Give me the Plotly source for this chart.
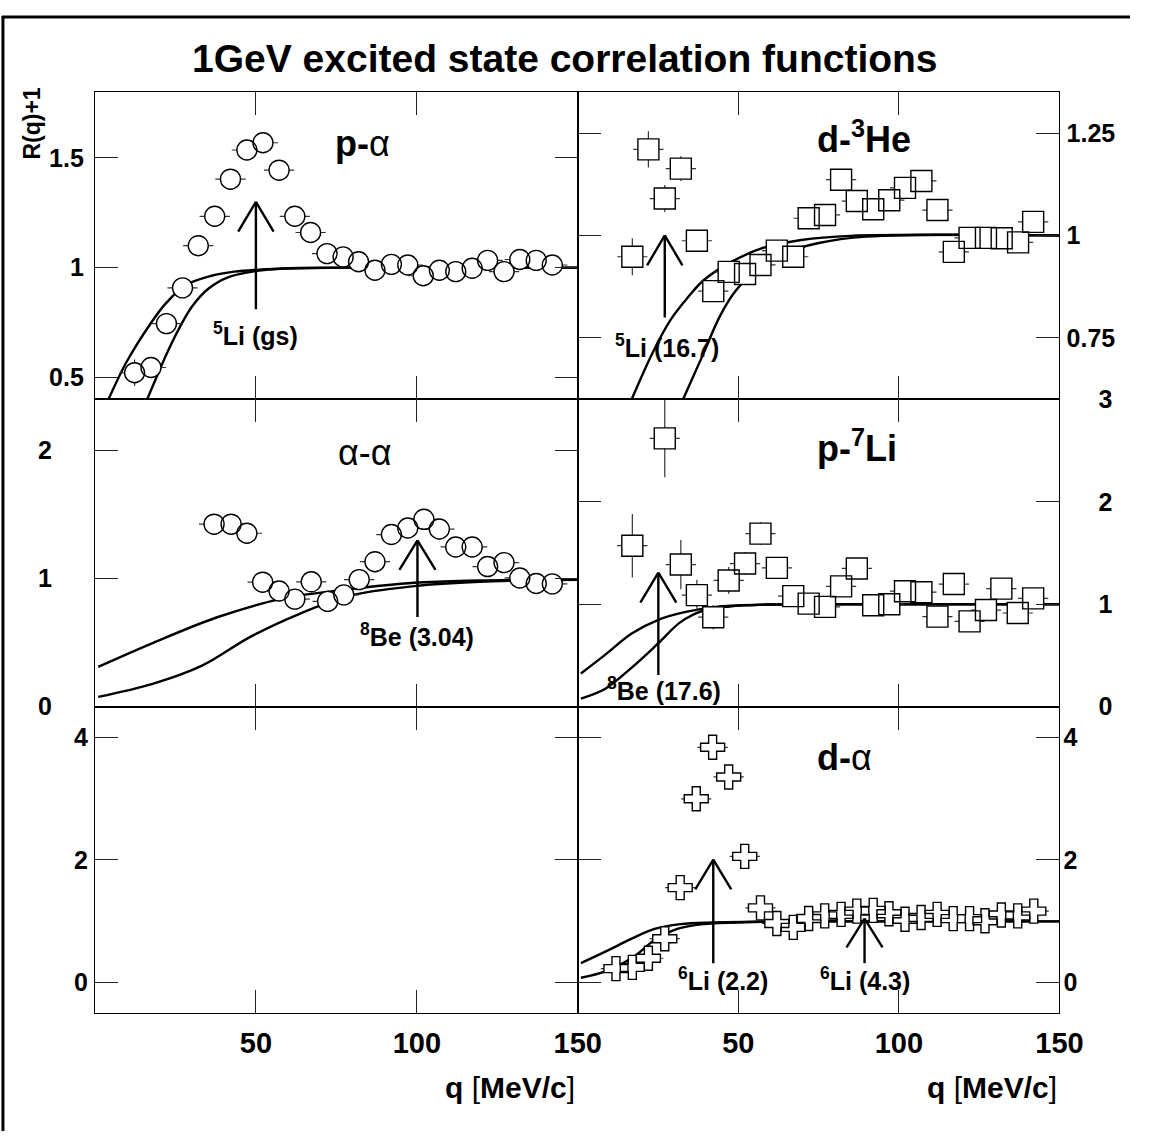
import plotly.graph_objects as go

W, H = 1154, 1145
FONT = "Liberation Sans, Arial, sans-serif"

# ---------------- data ----------------
# p-alpha (top left, circles)
pa_q = [12.3, 17.4, 22.2, 27.2, 32.1, 37.2, 42.1, 47.2, 52.2, 57.2, 62.1, 67.0, 72.1, 77.1,
        81.9, 87.0, 92.1, 97.2, 102.0, 107.0, 112.1, 117.2, 122.0, 127.1, 132.0, 137.1, 142.1]
pa_r = [0.521, 0.545, 0.745, 0.908, 1.10, 1.234, 1.403, 1.536, 1.569, 1.444, 1.234, 1.16, 1.064, 1.049,
        1.027, 0.988, 1.015, 1.012, 0.963, 0.988, 0.982, 0.997, 1.033, 0.982, 1.037, 1.033, 1.012]
pa_e = [0.06] + [0.03] * 26

# d-3He (top right, squares)
dhe_q = [17.0, 22.0, 27.1, 32.1, 37.1, 42.2, 47.0, 52.1, 56.9, 62.0, 67.1, 71.9, 77.0,
         82.0, 86.9, 92.0, 97.0, 101.9, 107.0, 112.0, 117.1, 122.0, 127.1, 132.0, 137.1, 141.8]
dhe_r = [0.948, 1.210, 1.090, 1.163, 0.987, 0.864, 0.911, 0.906, 0.928, 0.963, 0.948, 1.042, 1.050,
         1.136, 1.084, 1.064, 1.086, 1.116, 1.133, 1.062, 0.960, 0.994, 0.994, 0.993, 0.983, 1.033]
dhe_e = [0.045, 0.044, 0.033, 0.03] + [0.02] * 22

# alpha-alpha (middle left, circles)
aa_q = [37.0, 42.3, 47.2, 52.1, 57.2, 62.1, 67.2, 72.3, 77.3, 82.1, 87.0, 92.1, 97.2, 102.2,
        107.0, 112.1, 117.2, 122.0, 127.1, 132.0, 137.1, 142.1]
aa_r = [1.425, 1.425, 1.354, 0.972, 0.903, 0.840, 0.975, 0.822, 0.873, 0.992, 1.132, 1.344, 1.395, 1.463,
        1.387, 1.247, 1.247, 1.094, 1.125, 1.005, 0.962, 0.959]
aa_e = [0.05] * 22

# p-7Li (middle right, squares)
pli_q = [17.0, 27.1, 32.1, 37.1, 42.2, 47.0, 52.1, 56.9, 62.0, 67.1, 71.9, 77.0, 82.0, 86.9,
         92.0, 97.0, 101.9, 107.0, 112.0, 117.1, 122.0, 127.1, 131.9, 137.0, 141.8]
pli_r = [1.571, 2.619, 1.387, 1.089, 0.873, 1.232, 1.397, 1.689, 1.355, 1.079, 1.006, 0.974, 1.174, 1.349,
         0.990, 1.000, 1.127, 1.117, 0.879, 1.197, 0.832, 0.943, 1.152, 0.914, 1.057]
pli_e = [0.31, 0.38, 0.24, 0.15, 0.12, 0.13, 0.11, 0.11, 0.09] + [0.08] * 16

# d-alpha (bottom right, crosses)
da_q = [11.9, 17.0, 22.0, 27.1, 31.9, 36.9, 42.0, 47.0, 52.0, 56.9, 62.0, 67.1, 71.9, 76.9,
        82.0, 86.9, 92.0, 96.9, 101.9, 106.9, 111.9, 116.9, 122.0, 126.8, 131.9, 137.0, 142.0]
da_r = [0.223, 0.244, 0.393, 0.712, 1.546, 2.996, 3.836, 3.352, 2.056, 1.216, 0.961, 0.897, 1.041, 1.084,
        1.11, 1.163, 1.174, 1.12, 1.03, 1.057, 1.11, 1.04, 1.04, 1.004, 1.1, 1.084, 1.163]
da_e = [0.08] * 27

Q_HALF = 4.7  # horizontal error (bin half width as drawn)

# theory curves
pa_cA_q = [4.2, 9.8, 17.4, 22.0, 28.0, 36.2, 43.3, 50.2, 63.6, 80, 150]
pa_cA_r = [0.40, 0.57, 0.748, 0.837, 0.919, 0.963, 0.982, 0.99, 0.997, 1.0, 1.0]
pa_cB_q = [16.2, 19.4, 22.5, 26.0, 30.1, 35.2, 41.3, 50.2, 58.5, 73.7, 150]
pa_cB_r = [0.40, 0.511, 0.615, 0.719, 0.822, 0.904, 0.956, 0.985, 0.996, 1.0, 1.0]

dhe_cA_q = [16.8, 23.4, 29.0, 34.0, 39.1, 47.3, 57.4, 69.6, 84.9, 150]
dhe_cA_r = [0.60, 0.715, 0.795, 0.846, 0.89, 0.933, 0.969, 0.989, 0.999, 1.0]
dhe_cB_q = [32.8, 39.1, 44.2, 49.3, 56.4, 64.5, 74.7, 89.9, 150]
dhe_cB_r = [0.60, 0.711, 0.802, 0.866, 0.921, 0.957, 0.981, 0.997, 1.0]

aa_cA_q = [1, 17.9, 38.2, 58.5, 78.9, 99.2, 119.5, 150]
aa_cA_r = [0.31, 0.496, 0.70, 0.845, 0.916, 0.967, 0.985, 0.995]
aa_cB_q = [1, 17.9, 33.1, 48.4, 63.6, 78.9, 99.2, 119.5, 150]
aa_cB_r = [0.076, 0.178, 0.318, 0.547, 0.725, 0.865, 0.941, 0.975, 0.99]

pli_cA_q = [1, 8.6, 16.8, 25.1, 34.0, 44.2, 59.5, 80, 150]
pli_cA_r = [0.324, 0.508, 0.714, 0.848, 0.927, 0.978, 0.997, 1.0, 1.0]
pli_cB_q = [1, 8.6, 16.8, 25.1, 32.0, 39.1, 47.3, 59.5, 80, 150]
pli_cB_r = [0.079, 0.175, 0.381, 0.619, 0.825, 0.937, 0.978, 0.997, 1.0, 1.0]

da_cA_q = [1, 8.6, 16.8, 23.9, 32.0, 42.2, 59.5, 80, 150]
da_cA_r = [0.313, 0.50, 0.712, 0.872, 0.951, 0.977, 0.99, 0.995, 0.995]
da_cB_q = [1, 8.6, 16.8, 23.9, 31.0, 39.1, 49.3, 59.5, 80, 150]
da_cB_r = [0.075, 0.18, 0.394, 0.685, 0.872, 0.951, 0.977, 0.99, 0.995, 0.995]

# resonance arrows: panel, q, base, tip, barb half-width (q), barb y, label, label y, label q
arrows = [
    (1, 50.0, 0.81, 1.30, 5.5, 1.164, "<b><sup>5</sup>Li (gs)</b>", 0.698, 50.0),
    (2, 27.1, 0.80, 1.00, 5.5, 0.927, "<b><sup>5</sup>Li (16.7)</b>", 0.731, 27.9),
    (3, 100.2, 0.70, 1.298, 5.6, 1.069, "<b><sup>8</sup>Be (3.04)</b>", 0.56, 100.2),
    (4, 25.1, 0.31, 1.308, 5.6, 1.016, "<b><sup>8</sup>Be (17.6)</b>", 0.174, 26.9),
    (6, 42.2, 0.313, 2.003, 5.6, 1.519, "<b><sup>6</sup>Li (2.2)</b>", 0.048, 45.2),
    (6, 89.3, 0.313, 1.041, 5.6, 0.569, "<b><sup>6</sup>Li (4.3)</b>", 0.048, 89.3),
]

# panel titles: panel, text, q, y
titles = [
    (1, "<b>p-</b>α", 83, 1.565),
    (2, "<b>d-<sup>3</sup>He</b>", 89, 1.24),
    (3, "α-α", 84, 1.985),
    (4, "<b>p-<sup>7</sup>Li</b>", 87, 2.54),
    (6, "<b>d-</b>α", 83, 3.67),
]

# y axis tick values / labels per panel
y_ranges = {1: [0.4, 1.8], 2: [0.6, 1.35], 3: [0, 2.4], 4: [0, 3], 5: [-0.5, 4.5], 6: [-0.5, 4.5]}
y_ticks = {1: [0.5, 1, 1.5], 2: [0.75, 1, 1.25], 3: [0, 1, 2], 4: [0, 1, 2, 3], 5: [0, 2, 4], 6: [0, 2, 4]}
y_text = {1: ["0.5", "1", "1.5"], 2: ["0.75", "1", "1.25"], 3: ["0", "1", "2"],
          4: ["0", "1", "2", "3"], 5: ["0", "2", "4"], 6: ["0", "2", "4"]}
x_ticks = [50, 100, 150]
x_text = ["50", "100", "150"]

# ---------------- figure ----------------
fig = go.Figure()


def ax(n, kind):
    return kind if n == 1 else f"{kind}{n}"


def add_data(n, q, r, e, symbol, size):
    xa, ya = ax(n, "x"), ax(n, "y")
    # error bars + white mask so bars stop at the marker edge
    fig.add_trace(go.Scatter(
        x=q, y=r, mode="markers", xaxis=xa, yaxis=ya, showlegend=False, hoverinfo="skip",
        marker=dict(symbol=symbol, size=size, color="white", line=dict(width=0)),
        error_x=dict(type="constant", value=Q_HALF, width=0, thickness=1.2, color="#333"),
        error_y=dict(type="data", array=e, width=0, thickness=1.2, color="#333"),
    ))
    fig.add_trace(go.Scatter(
        x=q, y=r, mode="markers", xaxis=xa, yaxis=ya, showlegend=False,
        marker=dict(symbol=symbol + "-open", size=size, color="black", line=dict(width=1.4, color="black")),
    ))


def add_curve(n, q, r):
    fig.add_trace(go.Scatter(
        x=q, y=r, mode="lines", xaxis=ax(n, "x"), yaxis=ax(n, "y"), showlegend=False,
        line=dict(color="black", width=2.4, shape="spline", smoothing=1.0), hoverinfo="skip",
    ))


for n, cq, cr in [(1, pa_cA_q, pa_cA_r), (1, pa_cB_q, pa_cB_r),
                  (2, dhe_cA_q, dhe_cA_r), (2, dhe_cB_q, dhe_cB_r),
                  (3, aa_cA_q, aa_cA_r), (3, aa_cB_q, aa_cB_r),
                  (4, pli_cA_q, pli_cA_r), (4, pli_cB_q, pli_cB_r),
                  (6, da_cA_q, da_cA_r), (6, da_cB_q, da_cB_r)]:
    add_curve(n, cq, cr)

add_data(1, pa_q, pa_r, pa_e, "circle", 20)
add_data(2, dhe_q, dhe_r, dhe_e, "square", 21)
add_data(3, aa_q, aa_r, aa_e, "circle", 20)
add_data(4, pli_q, pli_r, pli_e, "square", 21)
add_data(6, da_q, da_r, da_e, "cross", 20)

# empty trace to anchor the bottom-left panel
fig.add_trace(go.Scatter(x=[], y=[], xaxis="x5", yaxis="y5", showlegend=False))

shapes = []
annotations = []
for (n, q, base, tip, dq, by, lab, ly, lq) in arrows:
    xr, yr = ax(n, "x"), ax(n, "y")
    line = dict(color="black", width=2.4)
    shapes.append(dict(type="line", xref=xr, yref=yr, x0=q, x1=q, y0=base, y1=tip, line=line))
    shapes.append(dict(type="line", xref=xr, yref=yr, x0=q - dq, x1=q, y0=by, y1=tip, line=line))
    shapes.append(dict(type="line", xref=xr, yref=yr, x0=q + dq, x1=q, y0=by, y1=tip, line=line))
    annotations.append(dict(text=lab, xref=xr, yref=yr, x=lq, y=ly, showarrow=False,
                            font=dict(family=FONT, size=25, color="black"),
                            xanchor="center", yanchor="middle"))

for (n, txt, q, y) in titles:
    annotations.append(dict(text=txt, xref=ax(n, "x"), yref=ax(n, "y"), x=q, y=y, showarrow=False,
                            font=dict(family=FONT, size=36, color="black"),
                            xanchor="center", yanchor="middle"))

# figure title and axis titles
annotations.append(dict(text="<b>1GeV excited state correlation functions</b>", xref="paper", yref="paper",
                        x=577 / W, y=1 - 46 / H, showarrow=False, xanchor="center", yanchor="middle",
                        font=dict(family=FONT, size=39, color="black")))
annotations.append(dict(text="<b>R(q)+1</b>", xref="paper", yref="paper", x=33 / W, y=1 - 112 / H,
                        showarrow=False, textangle=-90, xanchor="center", yanchor="middle",
                        font=dict(family=FONT, size=23, color="black")))
for xr in (589, 1081):
    annotations.append(dict(text="<b>q </b>[<b>MeV/c</b>]", xref="paper", yref="paper",
                            x=xr / W, y=1 - 1100 / H, showarrow=False, xanchor="right", yanchor="middle",
                            font=dict(family=FONT, size=30, color="black")))

# outer frame (left and top edges)
shapes.append(dict(type="line", xref="paper", yref="paper", x0=3 / W, x1=3 / W, y0=0, y1=1 - 2 / H,
                   line=dict(color="black", width=3)))
shapes.append(dict(type="line", xref="paper", yref="paper", x0=2 / W, x1=1, y0=1 - 3 / H, y1=1 - 3 / H,
                   line=dict(color="black", width=3)))

XD = {"L": [97 / W, 590 / W], "R": [590 / W, 1082 / W]}
YD = {0: [1 - 395 / H, 1 - 80 / H], 1: [1 - 710 / H, 1 - 395 / H], 2: [1 - 1024 / H, 1 - 710 / H]}
panels = {1: ("L", 0, 5), 2: ("R", 0, 1), 3: ("L", 1, 37), 4: ("R", 1, 33), 5: ("L", 2, 1), 6: ("R", 2, -2)}

layout = dict(width=W, height=H, margin=dict(l=0, r=0, t=0, b=0), paper_bgcolor="white",
              plot_bgcolor="white", shapes=shapes, annotations=annotations, showlegend=False)

for n, (col, row, stand) in panels.items():
    xk = "xaxis" if n == 1 else f"xaxis{n}"
    yk = "yaxis" if n == 1 else f"yaxis{n}"
    common = dict(showline=True, linecolor="black", linewidth=1.2, mirror="ticks", ticks="inside",
                  ticklen=23, tickwidth=1.2, tickcolor="#222", showgrid=False, zeroline=False,
                  fixedrange=True)
    layout[xk] = dict(common, domain=XD[col], range=[0, 150], anchor=ax(n, "y"),
                      tickvals=x_ticks, ticktext=x_text, showticklabels=(row == 2),
                      ticklabelstandoff=4,
                      tickfont=dict(family=FONT, size=29, color="black", weight="bold"))
    layout[yk] = dict(common, domain=YD[row], range=y_ranges[n], anchor=ax(n, "x"),
                      tickvals=y_ticks[n], ticktext=y_text[n],
                      side="left" if col == "L" else "right", ticklabelstandoff=stand,
                      tickfont=dict(family=FONT, size=25, color="black", weight="bold"))

fig.update_layout(**layout)
fig.write_html("out.html")
